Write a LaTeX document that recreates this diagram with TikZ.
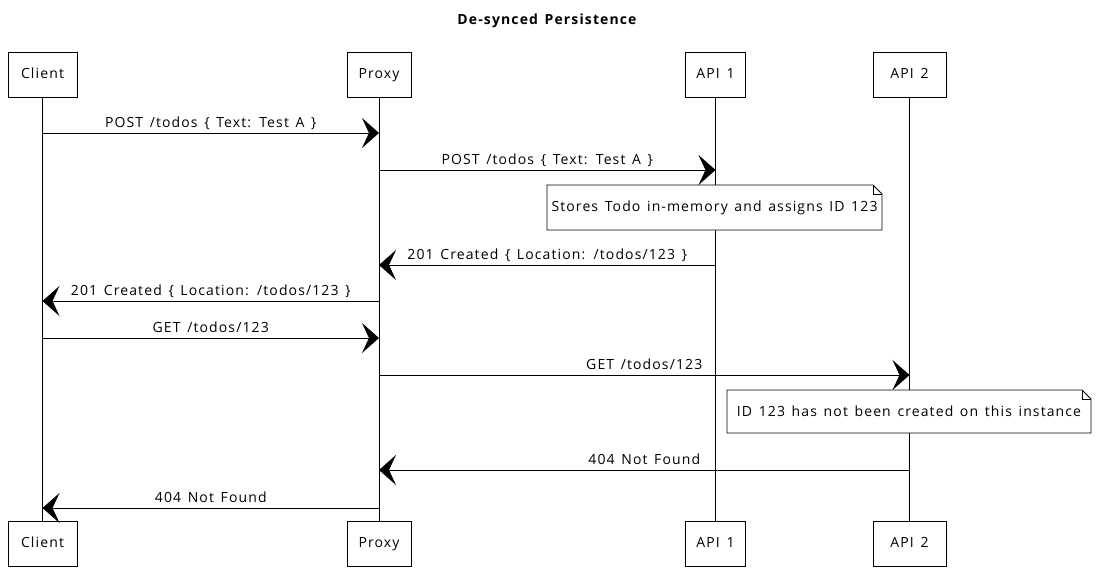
\documentclass[tikz,border=0pt]{standalone}
\usepackage{fontspec}
\setmainfont{Open Sans}[LetterSpace=8,WordSpace=1.4]
\usetikzlibrary{arrows.meta,calc}
\begin{document}
\begin{tikzpicture}[x=1pt,y=-1pt,
  part/.style={draw,line width=0.8pt,minimum height=45pt,inner sep=0pt,text height=10pt,text depth=3pt,fill=white,font=\fontsize{14}{16}\selectfont},
  life/.style={line width=0.7pt},
  msg/.style={line width=0.9pt,-{Stealth[length=17pt,width=30pt,inset=7pt]}},
  lbl/.style={anchor=base,inner sep=0pt,font=\fontsize{14}{16}\selectfont},
  notebox/.style={draw,line width=0.8pt,fill=white},
  notetext/.style={inner sep=0pt,font=\fontsize{14}{16}\selectfont},
]
\useasboundingbox (0,0) rectangle (1097,568);
\node[font=\bfseries\fontsize{14}{16}\selectfont] (title) at (547,21) {De-synced Persistence};
% participants
\node[part,minimum width=69pt] (clT) at (42.5,74.5) {Client};
\node[part,minimum width=64pt] (prT) at (379,74.5) {Proxy};
\node[part,minimum width=60pt] (a1T) at (715.5,74.5) {API 1};
\node[part,minimum width=73pt] (a2T) at (909.5,74.5) {API 2};
\node[part,minimum width=69pt] (clB) at (42.5,543.5) {Client};
\node[part,minimum width=64pt] (prB) at (379,543.5) {Proxy};
\node[part,minimum width=60pt] (a1B) at (715.5,543.5) {API 1};
\node[part,minimum width=73pt] (a2B) at (909.5,543.5) {API 2};
% lifelines
\draw[life] (clT) -- (clB);
\draw[life] (prT) -- (prB);
\draw[life] (a1T) -- (a1B);
\draw[life] (a2T) -- (a2B);
% messages
\draw[msg] (clT |- 0,133) -- node[lbl,yshift=6pt] {POST /todos \{ Text: Test A \}} (prT |- 0,133);
\draw[msg] (prT |- 0,170) -- node[lbl,yshift=6pt] {POST /todos \{ Text: Test A \}} (a1T |- 0,170);
\draw[msg] (a1T |- 0,265) -- node[lbl,yshift=6pt] {201 Created \{ Location: /todos/123 \}} (prT |- 0,265);
\draw[msg] (prT |- 0,301) -- node[lbl,yshift=6pt] {201 Created \{ Location: /todos/123 \}} (clT |- 0,301);
\draw[msg] (clT |- 0,338) -- node[lbl,yshift=6pt] {GET /todos/123} (prT |- 0,338);
\draw[msg] (prT |- 0,375) -- node[lbl,yshift=6pt] {GET /todos/123} (a2T |- 0,375);
\draw[msg] (a2T |- 0,470) -- node[lbl,yshift=6pt] {404 Not Found} (prT |- 0,470);
\draw[msg] (prT |- 0,508) -- node[lbl,yshift=6pt] {404 Not Found} (clT |- 0,508);
% note 1
\coordinate (n1a) at (547,185);
\coordinate (n1b) at (882,230);
\draw[notebox] (n1a) -- ($(n1b |- n1a)+(-9,0)$) -- ($(n1b |- n1a)+(0,9)$) -- (n1b) -- (n1a |- n1b) -- cycle;
\draw[line width=0.6pt] ($(n1b |- n1a)+(-9,0)$) -- ($(n1b |- n1a)+(-9,9)$) -- ($(n1b |- n1a)+(0,9)$);
\node[notetext] (n1t) at ($(n1a)!0.5!(n1b)$) {Stores Todo in-memory and assigns ID 123};
% note 2
\coordinate (n2a) at (727,390);
\coordinate (n2b) at (1091,433);
\draw[notebox] (n2a) -- ($(n2b |- n2a)+(-9,0)$) -- ($(n2b |- n2a)+(0,9)$) -- (n2b) -- (n2a |- n2b) -- cycle;
\draw[line width=0.6pt] ($(n2b |- n2a)+(-9,0)$) -- ($(n2b |- n2a)+(-9,9)$) -- ($(n2b |- n2a)+(0,9)$);
\node[notetext] (n2t) at ($(n2a)!0.5!(n2b)$) {ID 123 has not been created on this instance};
\end{tikzpicture}
\end{document}
